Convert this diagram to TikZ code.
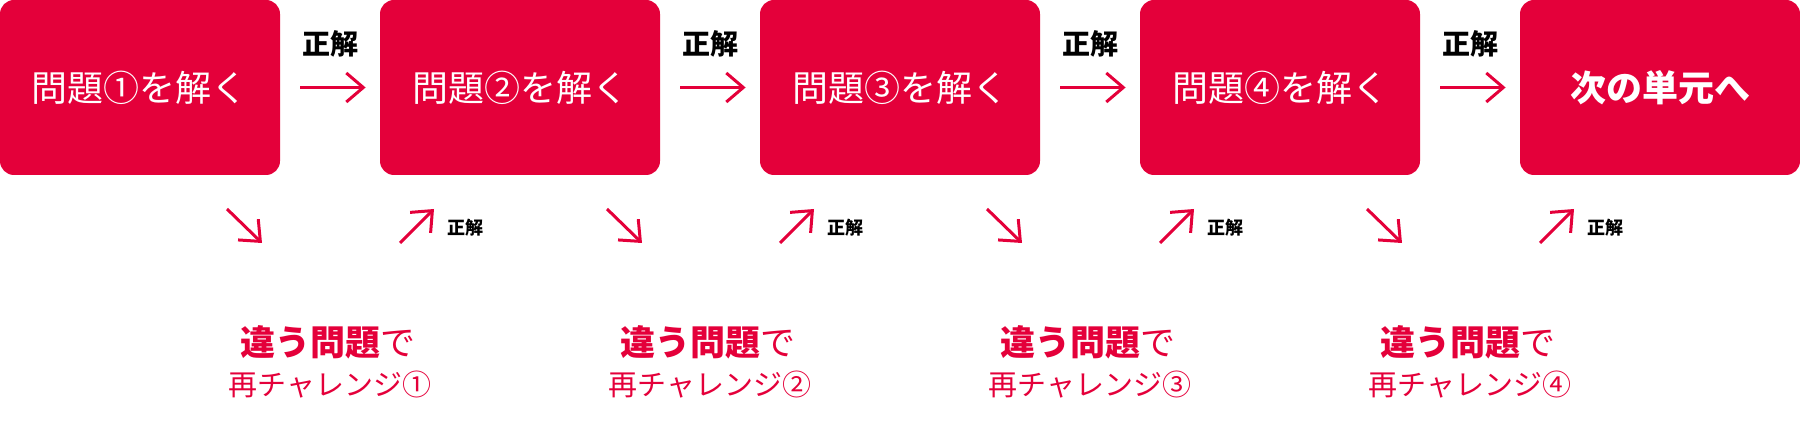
\documentclass[tikz,border=0pt]{standalone}
\usepackage{fontspec}
\setmainfont{Noto Sans CJK JP}
\usetikzlibrary{arrows.meta,positioning,calc}
\definecolor{jred}{HTML}{E4003A}
\begin{document}
\begin{tikzpicture}[x=0.5pt, y=-0.5pt,
    stepbox/.style={rectangle, rounded corners=7pt, fill=jred, text=white, minimum width=140pt, minimum height=87.5pt, font=\fontsize{18}{20}\selectfont},
    flow/.style={-{Straight Barb[length=8.5pt,width=14.5pt]}, line width=1.5pt, draw=jred},
    oklabel/.style={font=\bfseries\fontsize{14}{16}\selectfont},
    smalllabel/.style={font=\bfseries\fontsize{9}{11}\selectfont, anchor=west},
    retry/.style={text=jred, inner sep=0pt}]
    \useasboundingbox (0,0) rectangle (1800,448);

    % Steps
    \node [stepbox] (s1) at (140,87.5) {問題①を解く};
    \node [stepbox] (s2) at (520,87.5) {問題②を解く};
    \node [stepbox] (s3) at (900,87.5) {問題③を解く};
    \node [stepbox] (s4) at (1280,87.5) {問題④を解く};
    \node [stepbox, font=\bfseries\fontsize{18}{20}\selectfont] (s5) at (1660,87.5) {次の単元へ};

    % Correct answers
    \foreach \a/\b in {s1/s2, s2/s3, s3/s4, s4/s5} {
        \draw [flow, shorten <=10pt, shorten >=7pt] (\a) -- (\b);
        \node [oklabel] at ($(\a.east)!0.5!(\b.west)+(0,-44)$) (ok-\a) {正解};
    }

    % Retry
    \foreach \i/\n in {1/①, 2/②, 3/③, 4/④} {
        \pgfmathsetmacro{\x}{(\i-1)*380}
        \node [retry, font=\fontsize{17.5}{20}\selectfont] (r\i) at (\x+328,342)
            {{\bfseries 違う問題}で};
        \node [retry, font=\fontsize{14.5}{17}\selectfont] (c\i) at (\x+330,385)
            {再チャレンジ\n};
        \coordinate (d\i a) at (\x+227,209);
        \coordinate (d\i b) at (\x+262,243);
        \coordinate (u\i a) at (\x+400,243);
        \coordinate (u\i b) at (\x+434,209);
        \draw [flow] (d\i a) -- (d\i b);
        \draw [flow] (u\i a) -- (u\i b);
        \node [smalllabel] (ok\i) at (\x+440,228) {正解};
    }
\end{tikzpicture}
\end{document}
